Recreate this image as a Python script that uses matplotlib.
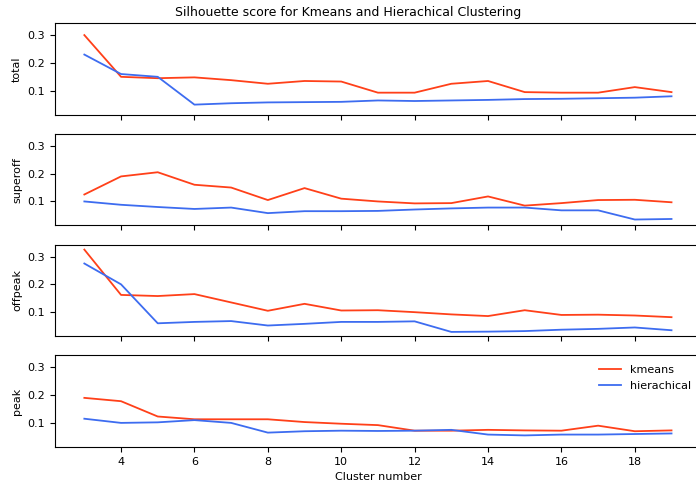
import matplotlib
matplotlib.use("Agg")
import matplotlib.pyplot as plt

clusters = list(range(3, 20))

# kmeans silhouette scores
kmeans_total = [0.30, 0.150, 0.145, 0.148, 0.138, 0.125, 0.135, 0.133, 0.093, 0.093,
                0.125, 0.135, 0.095, 0.093, 0.093, 0.113, 0.095]
kmeans_superoff = [0.125, 0.190, 0.205, 0.160, 0.150, 0.105, 0.148, 0.110, 0.100, 0.093,
                   0.094, 0.118, 0.085, 0.094, 0.105, 0.106, 0.097]
kmeans_offpeak = [0.325, 0.162, 0.158, 0.165, 0.135, 0.105, 0.130, 0.106, 0.107, 0.100,
                  0.092, 0.086, 0.107, 0.090, 0.091, 0.088, 0.082]
kmeans_peak = [0.190, 0.178, 0.123, 0.113, 0.113, 0.113, 0.103, 0.097, 0.092, 0.072,
               0.072, 0.075, 0.073, 0.072, 0.090, 0.070, 0.073]

# hierachical silhouette scores
hier_total = [0.230, 0.160, 0.150, 0.050, 0.055, 0.058, 0.059, 0.060, 0.065, 0.063,
              0.065, 0.067, 0.070, 0.071, 0.073, 0.075, 0.080]
hier_superoff = [0.100, 0.088, 0.080, 0.073, 0.078, 0.058, 0.065, 0.065, 0.066, 0.071,
                 0.075, 0.078, 0.078, 0.068, 0.068, 0.035, 0.037]
hier_offpeak = [0.275, 0.200, 0.060, 0.065, 0.068, 0.052, 0.058, 0.065, 0.065, 0.067,
                0.029, 0.030, 0.032, 0.037, 0.040, 0.045, 0.035]
hier_peak = [0.115, 0.100, 0.102, 0.110, 0.100, 0.065, 0.070, 0.072, 0.071, 0.072,
             0.075, 0.058, 0.055, 0.058, 0.058, 0.060, 0.062]

panel_names = ["total", "superoff", "offpeak", "peak"]
kmeans_all = [kmeans_total, kmeans_superoff, kmeans_offpeak, kmeans_peak]
hier_all = [hier_total, hier_superoff, hier_offpeak, hier_peak]

fig, axes = plt.subplots(4, 1, figsize=(6.96, 4.82), dpi=100, sharex=True, sharey=True)

for ax, name, km, hc in zip(axes, panel_names, kmeans_all, hier_all):
    ax.plot(clusters, km, color="#ff4019", label="kmeans", lw=1.3)
    ax.plot(clusters, hc, color="#3d6cf0", label="hierachical", lw=1.3)
    ax.set_ylabel(name, fontsize=8)
    ax.tick_params(labelsize=8)

axes[0].set_ylim(0.014, 0.343)
axes[0].set_yticks([0.1, 0.2, 0.3])
axes[-1].set_xticks([4, 6, 8, 10, 12, 14, 16, 18])
axes[-1].set_xlabel("Cluster number", fontsize=8)
axes[-1].legend(loc="upper right", fontsize=8, frameon=False)

# the original picture is cut off just before the right spine
fig.suptitle("Silhouette score for Kmeans and Hierachical Clustering", fontsize=9, y=0.988)
plt.subplots_adjust(left=0.079, right=1.007, top=0.952, bottom=0.073, hspace=0.21)

plt.savefig("out.png")
